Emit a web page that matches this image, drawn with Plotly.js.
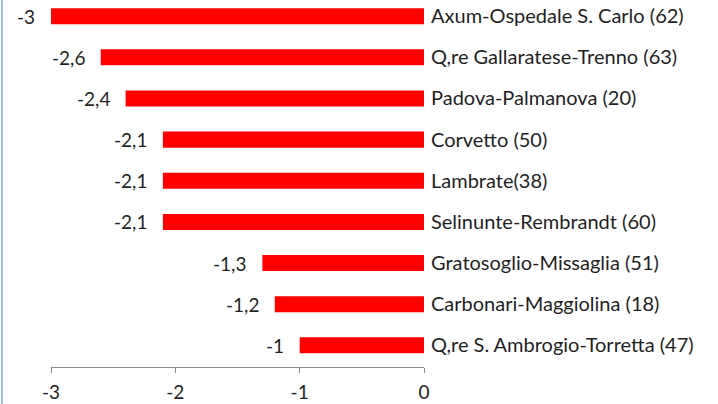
<!DOCTYPE html>
<html>
<head>
<meta charset="utf-8">
<script src="https://cdn.plot.ly/plotly-3.0.1.min.js"></script>
<style>
html,body{margin:0;padding:0;background:#fff;}
#wrap{position:relative;width:718px;height:404px;overflow:hidden;}
#edge{position:absolute;left:1px;top:0;width:2px;height:404px;background:#9dc3e6;}
#chart{position:absolute;left:0;top:0;width:718px;height:404px;}
</style>
</head>
<body>
<div id="wrap"><div id="chart"></div><div id="edge"></div></div>
<script>
const categories = [
  "Axum-Ospedale S. Carlo (62)",
  "Q,re Gallaratese-Trenno (63)",
  "Padova-Palmanova (20)",
  "Corvetto (50)",
  "Lambrate(38)",
  "Selinunte-Rembrandt (60)",
  "Gratosoglio-Missaglia (51)",
  "Carbonari-Maggiolina (18)",
  "Q,re S. Ambrogio-Torretta (47)"
];
const values = [-3, -2.6, -2.4, -2.1, -2.1, -2.1, -1.3, -1.2, -1];
const xTicks = [-3, -2, -1, 0];

const fmt = v => String(v).replace('.', ',');
const FONT = 'Lato, "Open Sans", sans-serif';
const TXT = '#1f1f1f';
const FS = 19;

const trace = {
  type: 'bar',
  orientation: 'h',
  y: categories,
  x: values,
  marker: {color: '#ff0000'},
  hoverinfo: 'none'
};

const annotations = values.map((v, i) => ({
  x: v, y: categories[i], xref: 'x', yref: 'y',
  text: fmt(v), showarrow: false, xanchor: 'right', yanchor: 'middle',
  xshift: -14, font: {family: FONT, size: FS, color: TXT}
}));

const layout = {
  width: 718, height: 404,
  margin: {l: 51, r: 294, t: 0, b: 37},
  paper_bgcolor: '#fff', plot_bgcolor: '#fff',
  showlegend: false,
  bargap: 0.61,
  font: {family: FONT, size: FS, color: TXT},
  xaxis: {
    range: [-3, 0], tickvals: xTicks, ticktext: xTicks.map(fmt),
    showgrid: false, zeroline: false, showline: true, linecolor: '#8c8c8c', linewidth: 1,
    ticks: 'outside', ticklen: 5, tickcolor: '#8c8c8c', tickwidth: 1, ticklabelstandoff: 3,
    tickfont: {family: FONT, size: FS, color: TXT}, fixedrange: true
  },
  yaxis: {
    type: 'category', categoryorder: 'array', categoryarray: categories,
    range: [8.527, -0.394], side: 'right', showgrid: false, zeroline: false,
    showline: false, ticks: '', ticklabelstandoff: 6,
    tickfont: {family: FONT, size: 20, color: TXT}, fixedrange: true
  },
  annotations: annotations
};

Plotly.newPlot('chart', [trace], layout, {displayModeBar: false, staticPlot: true});
</script>
</body>
</html>
